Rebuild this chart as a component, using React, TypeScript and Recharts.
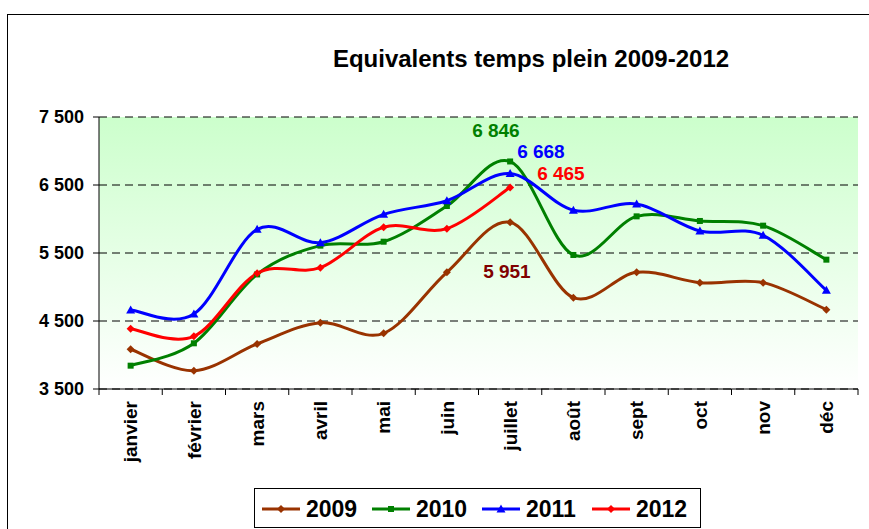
import React from "react";
import { LineChart, Line, XAxis, YAxis, CartesianGrid, LabelList } from "recharts";

const months = ["janvier", "février", "mars", "avril", "mai", "juin", "juillet", "août", "sept", "oct", "nov", "déc"];
const years = ["2009", "2010", "2011", "2012"];
const yTicks = [3500, 4500, 5500, 6500, 7500];

const v2009 = [4084, 3769, 4162, 4475, 4319, 5216, 5951, 4843, 5216, 5064, 5064, 4667];
const v2010 = [3843, 4172, 5185, 5608, 5666, 6191, 6846, 5471, 6039, 5971, 5902, 5402];
const v2011 = [4662, 4603, 5848, 5652, 6069, 6269, 6668, 6128, 6221, 5824, 5760, 4951];
const v2012 = [4387, 4275, 5201, 5284, 5878, 5858, 6465];

// month in the middle of its band, so the axis ticks fall between months
const data = months.map((m, i) => ({
  x: i + 0.5,
  month: m,
  "2009": v2009[i] ?? null,
  "2010": v2010[i] ?? null,
  "2011": v2011[i] ?? null,
  "2012": v2012[i] ?? null,
}));

const look: Record<string, { color: string; label: string; shape: string; dx: number; dy: number }> = {
  "2009": { color: "#993300", label: "#800000", shape: "diamond", dx: -27, dy: 56 },
  "2010": { color: "#008000", label: "#008000", shape: "square", dx: -38, dy: -24 },
  "2011": { color: "#0000FF", label: "#0000FF", shape: "triangle", dx: 7, dy: -16 },
  "2012": { color: "#FF0000", label: "#FF0000", shape: "diamond", dx: 27, dy: -7 },
};

const FONT = "Arial, 'Liberation Sans', sans-serif";
const fmt = (v: number) => String(v).replace(/\B(?=(\d{3})+(?!\d))/g, " ");

// Excel-like smoothing (Catmull-Rom as cubic Bezier)
function excelCurve(ctx: any) {
  let pts: number[][] = [];
  return {
    areaStart() {},
    areaEnd() {},
    lineStart() {
      pts = [];
    },
    point(x: number, y: number) {
      pts.push([+x, +y]);
    },
    lineEnd() {
      const n = pts.length;
      if (!n) return;
      ctx.moveTo(pts[0][0], pts[0][1]);
      for (let i = 0; i < n - 1; i++) {
        const p0 = pts[Math.max(i - 1, 0)];
        const p1 = pts[i];
        const p2 = pts[i + 1];
        const p3 = pts[Math.min(i + 2, n - 1)];
        ctx.bezierCurveTo(
          p1[0] + (p2[0] - p0[0]) / 6,
          p1[1] + (p2[1] - p0[1]) / 6,
          p2[0] - (p3[0] - p1[0]) / 6,
          p2[1] - (p3[1] - p1[1]) / 6,
          p2[0],
          p2[1]
        );
      }
    },
  };
}

function Marker({ cx, cy, shape, color }: any) {
  if (cx == null || cy == null) return null;
  if (shape === "square") return <rect x={cx - 3} y={cy - 3} width={6} height={6} fill={color} />;
  if (shape === "triangle")
    return <polygon points={`${cx},${cy - 4.5} ${cx + 4.5},${cy + 3.5} ${cx - 4.5},${cy + 3.5}`} fill={color} />;
  return <polygon points={`${cx},${cy - 4} ${cx + 4},${cy} ${cx},${cy + 4} ${cx - 4},${cy}`} fill={color} />;
}

function MonthTick({ x, y, payload }: any) {
  const name = months[Math.floor(payload.value)];
  const ty = y + 6;
  return (
    <text
      x={x}
      y={ty}
      dy="0.36em"
      transform={`rotate(-90, ${x}, ${ty})`}
      textAnchor="end"
      fill="#000"
      fontSize={19}
      fontWeight="bold"
      fontFamily={FONT}
    >
      {name}
    </text>
  );
}

// the boundary ticks carry no text
function NoTick() {
  return <g />;
}

function peakLabel(year: string) {
  return (props: any) => {
    const { x, y, index, value } = props;
    if (index !== 6 || value == null) return null;
    const s = look[year];
    return (
      <text x={x + s.dx} y={y + s.dy} fill={s.label} fontSize={19} fontWeight="bold" fontFamily={FONT}>
        {fmt(value)}
      </text>
    );
  };
}

export default function App() {
  return (
    <div style={{ position: "absolute", left: 0, top: 0, width: 869, height: 529, overflow: "hidden", background: "#fff" }}>
      <div style={{ position: "absolute", left: 7, top: 14, width: 900, height: 600, border: "1px solid #000" }} />
      <div style={{ position: "absolute", left: 0, top: 0 }}>
        <LineChart width={869} height={529} data={data} margin={{ top: 117, right: 11, left: 0, bottom: 0 }}>
          <defs>
            <linearGradient id="plotBg" x1="0" y1="0" x2="0" y2="1">
              <stop offset="0%" stopColor="#CCFFCC" />
              <stop offset="100%" stopColor="#FFFFFF" />
            </linearGradient>
          </defs>
          <CartesianGrid
            xAxisId="b"
            vertical={false}
            stroke="#000"
            strokeDasharray="8 5"
            fill="url(#plotBg)"
            fillOpacity={1}
          />
          <XAxis
            xAxisId="a"
            dataKey="x"
            type="number"
            domain={[0, months.length]}
            ticks={months.map((_, i) => i).concat(months.length)}
            interval={0}
            allowDataOverflow
            tick={<NoTick />}
            tickSize={6}
            height={6}
            axisLine={{ stroke: "#000" }}
            tickLine={{ stroke: "#000", strokeWidth: 1 }}
          />
          <XAxis
            xAxisId="b"
            dataKey="x"
            type="number"
            domain={[0, months.length]}
            ticks={months.map((_, i) => i + 0.5)}
            interval={0}
            allowDataOverflow
            axisLine={false}
            tickLine={false}
            tickSize={0}
            tickMargin={0}
            height={134}
            tick={<MonthTick />}
          />
          <YAxis
            domain={[yTicks[0], yTicks[yTicks.length - 1]]}
            ticks={yTicks}
            interval={0}
            width={99}
            tickSize={6}
            tickMargin={9}
            tickFormatter={fmt}
            axisLine={{ stroke: "#000" }}
            tickLine={{ stroke: "#000" }}
            tick={{ fill: "#000", fontSize: 18, fontWeight: "bold", fontFamily: FONT }}
          />
          {years.map((yr) => (
            <Line
              key={yr}
              xAxisId="b"
              dataKey={yr}
              type={excelCurve as any}
              stroke={look[yr].color}
              strokeWidth={3}
              dot={(p: any) => <Marker key={`${yr}-${p.index}`} cx={p.cx} cy={p.cy} shape={look[yr].shape} color={look[yr].color} />}
              activeDot={false}
              connectNulls={false}
              isAnimationActive={false}
            >
              <LabelList dataKey={yr} content={peakLabel(yr)} />
            </Line>
          ))}
        </LineChart>
      </div>
      <svg width={869} height={529} style={{ position: "absolute", left: 0, top: 0, pointerEvents: "none" }}>
        <text x={531} y={67} textAnchor="middle" fontSize={24} fontWeight="bold" fontFamily={FONT} fill="#000">
          Equivalents temps plein 2009-2012
        </text>
        <rect x={254.5} y={488.5} width={446} height={39} fill="#fff" stroke="#000" strokeWidth={1} />
        {years.map((yr, i) => {
          const x0 = 262 + i * 110;
          return (
            <g key={yr}>
              <line x1={x0} y1={509} x2={x0 + 38} y2={509} stroke={look[yr].color} strokeWidth={3} />
              <Marker cx={x0 + 19} cy={509} shape={look[yr].shape} color={look[yr].color} />
              <text x={x0 + 44} y={517} fontSize={23} fontWeight="bold" fontFamily={FONT} fill="#000">
                {yr}
              </text>
            </g>
          );
        })}
      </svg>
    </div>
  );
}
